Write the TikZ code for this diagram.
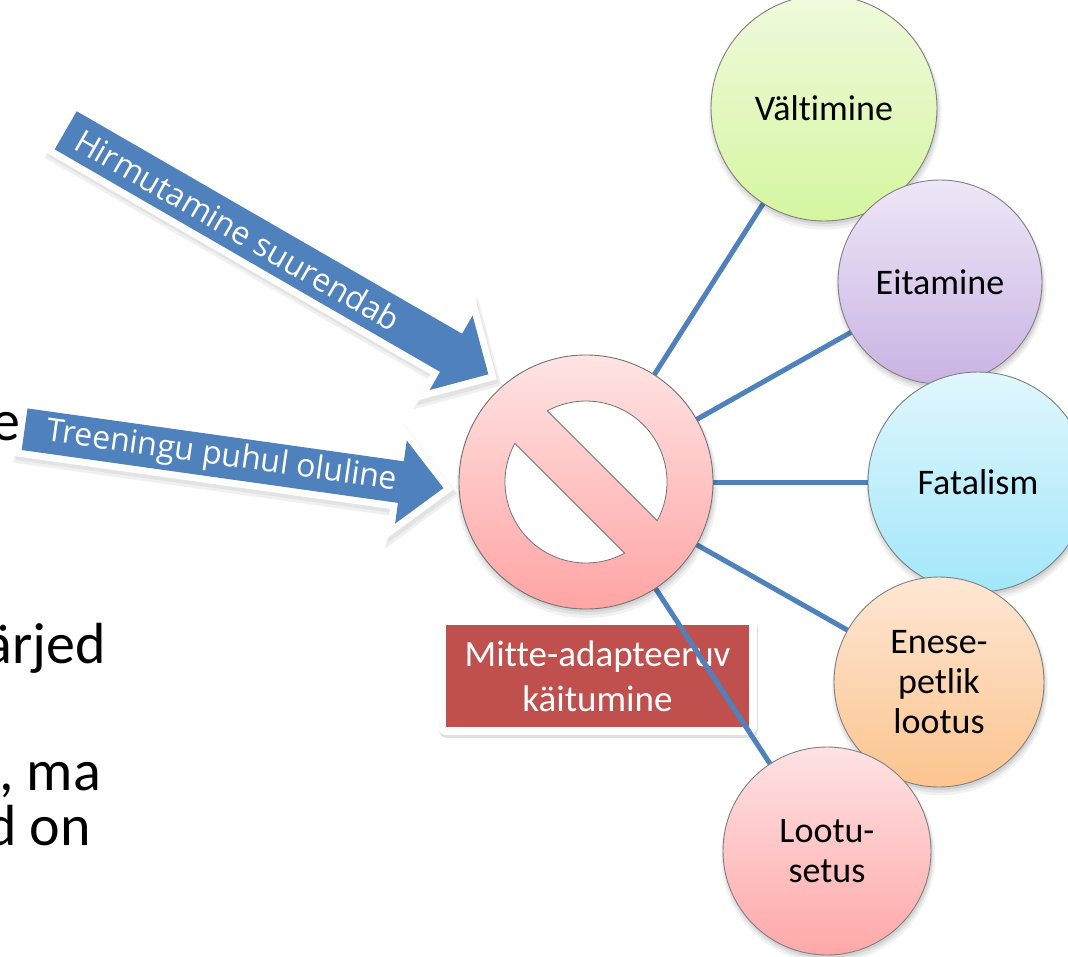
\documentclass[tikz,border=0pt]{standalone}
\usepackage{fontspec}
\setmainfont{Carlito}[Ligatures={NoCommon}]
\newfontfamily\arrowfont{Open Sans}[Ligatures={NoCommon}]
\usetikzlibrary{shadows}
\definecolor{arrowblue}{HTML}{4F81BD}
\definecolor{labred}{HTML}{C0504D}
\definecolor{valtTop}{HTML}{F0FADC}\definecolor{valtBot}{HTML}{D5F6A0}
\definecolor{eitTop}{HTML}{EEE7F7}\definecolor{eitBot}{HTML}{C9B3E3}
\definecolor{fatTop}{HTML}{E0F7FD}\definecolor{fatBot}{HTML}{A2E7FA}
\definecolor{eneTop}{HTML}{FEE7D4}\definecolor{eneBot}{HTML}{FCC48E}
\definecolor{lootTop}{HTML}{FEE2E4}\definecolor{lootBot}{HTML}{FFA8A8}
\definecolor{mainTop}{HTML}{FFE4E4}\definecolor{mainBot}{HTML}{FFA4A4}
\pgfdeclarelayer{back}
\pgfdeclarelayer{mid}
\pgfsetlayers{back,mid,main}
\tikzset{
  softshadow/.style={
    general shadow={shadow xshift=1pt, shadow yshift=-5pt, shadow scale=1.03, fill=black, opacity=0.05},
    general shadow={shadow xshift=1pt, shadow yshift=-4pt, shadow scale=1.015, fill=black, opacity=0.06},
    general shadow={shadow xshift=1pt, shadow yshift=-3pt, fill=black, opacity=0.07}},
  bubble/.style={circle, inner sep=0pt, draw=black!50, line width=0.9pt, align=center,
    font=\fontsize{36}{40}\selectfont, softshadow},
  conn/.style={draw=arrowblue, line width=5pt},
  blockarrow/.style={fill=arrowblue,
    general shadow={draw=black!6, fill=black!6, line width=18pt, line join=miter, shadow xshift=2pt, shadow yshift=-5pt},
    general shadow={draw=black!11, fill=black!11, line width=14pt, line join=miter, shadow xshift=2pt, shadow yshift=-4pt},
    preaction={draw=white, line width=14pt, line join=miter}},
  arrowtext/.style={text=white, font=\arrowfont\fontsize{32}{38}\selectfont, inner sep=0pt},
  labbox/.style={fill=labred, text=white, minimum width=303pt, minimum height=102pt, inner sep=0pt,
    align=center, font=\fontsize{37}{45}\selectfont,
    general shadow={fill=black!12, draw=black!12, line width=16pt, line join=round, shadow xshift=1pt, shadow yshift=-3pt},
    preaction={draw=white, line width=16pt, line join=round}},
  lefttext/.style={font=\fontsize{58}{70}\selectfont, inner sep=0pt, anchor=base east},
}
\begin{document}
\begin{tikzpicture}[x=1pt,y=-1pt]
\useasboundingbox (0,0) rectangle (1068,956);
\clip (0,0) rectangle (1068,956);
\begin{pgfonlayer}{back}
  \fill[white] (0,0) rectangle (1068,956);
  \node[labbox] (lab) at (597.5,676) {Mitte-adapteeruv\\käitumine};
\end{pgfonlayer}

% left cut-off text
\node[lefttext] (l1) at (21,440) {e};
\node[lefttext] (l2) at (106,663) {ärjed};
\node[lefttext] (l3) at (101,790) {, ma};
\node[lefttext] (l4) at (91,845) {d on};

% main "no" circle
\node[circle, inner sep=0pt, minimum size=254pt, draw=black!55, line width=0.9pt,
      top color=mainTop, bottom color=mainBot, softshadow] (main) at (586,482) {};
\fill[white, draw=black!55, line width=0.8pt] (main.center) ++(28.5:81)
   arc[start angle=28.5, end angle=-118.5, radius=81] -- cycle;
\fill[white, draw=black!55, line width=0.8pt] (main.center) ++(-151.5:81)
   arc[start angle=-151.5, end angle=-298.5, radius=81] -- cycle;

% block arrows
\begin{scope}[shift={(65.7,130.3)}, rotate=-30]
  \path[blockarrow] (0,-22) -- (445,-22) -- (445,-43) -- (488,0) -- (445,43) -- (445,22) -- (0,22) -- cycle;
  \node[arrowtext, rotate=-30] (a1) at (199,0) {Hirmutamine suurendab};
\end{scope}
\begin{scope}[shift={(24.6,429.2)}, rotate=-8]
  \path[blockarrow] (0,-21) -- (380,-21) -- (380,-42) -- (423,0) -- (380,42) -- (380,21) -- (0,21) -- cycle;
  \node[arrowtext, rotate=-8] (a2) at (199,0) {Treeningu puhul oluline};
\end{scope}

% outcome bubbles
\node[bubble, minimum size=226pt, top color=valtTop, bottom color=valtBot] (valt) at (824,108) {Vältimine};
\node[bubble, minimum size=204pt, top color=eitTop, bottom color=eitBot] (eit) at (940,282) {Eitamine};
\node[bubble, minimum size=220pt, top color=fatTop, bottom color=fatBot] (fat) at (978,482) {Fatalism};
\node[bubble, minimum size=210pt, top color=eneTop, bottom color=eneBot] (ene) at (939,682) {Enese-\\petlik\\lootus};
\node[bubble, minimum size=208pt, top color=lootTop, bottom color=lootBot] (loot) at (827,851) {Lootu-\\setus};

\begin{pgfonlayer}{mid}
  \draw[conn] (main.center) -- (valt.center);
  \draw[conn] (main.center) -- (eit.center);
  \draw[conn] (main.center) -- (fat.center);
  \draw[conn] (main.center) -- (ene.center);
  \draw[conn] (main.center) -- (loot.center);
\end{pgfonlayer}
\end{tikzpicture}
\end{document}
